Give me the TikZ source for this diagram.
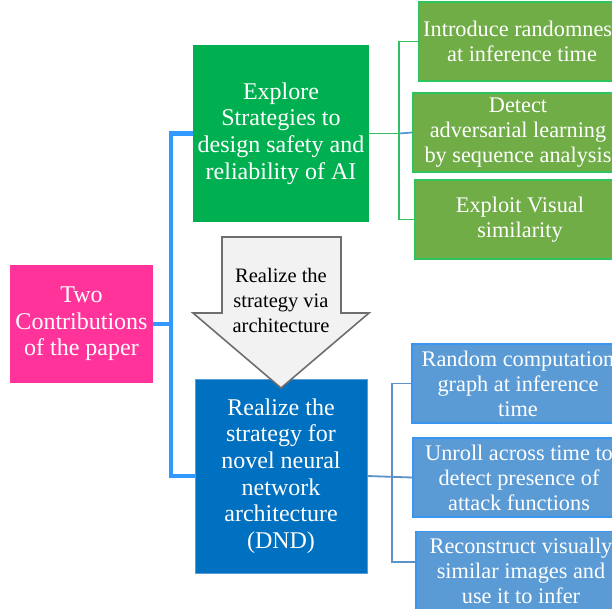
\documentclass[tikz,border=0pt]{standalone}
\usepackage{fontspec}
\setmainfont{Liberation Serif}[Ligatures=TeX]
\newfontfamily\tms{Liberation Serif}
\begin{document}
\begin{tikzpicture}[x=1pt,y=-1pt,
  box/.style={inner sep=0pt,align=center,text=white,anchor=center},
  bigtxt/.style={font=\tms\fontsize{24}{26.6}\selectfont},
  smalltxt/.style={font=\tms\fontsize{22.3}{25}\selectfont},
  arrtxt/.style={font=\tms\fontsize{20.5}{25}\selectfont},
  trunk/.style={draw=trunkblue,line width=4.5pt},
  gline/.style={draw=glinecol,line width=1.8pt},
  bline/.style={draw=blinecol,line width=1.8pt},
  gbox/.style={box,smalltxt,fill=rgreen,draw=rgreenb,line width=1.8pt,minimum height=79pt},
  bbox/.style={box,smalltxt,fill=rblue,draw=rblueb,line width=1.8pt,minimum height=79pt}
]
\definecolor{pinkc}{HTML}{FF3399}
\definecolor{mgreen}{HTML}{00B050}
\definecolor{rgreen}{HTML}{70AD47}
\definecolor{rgreenb}{HTML}{2FC45E}
\definecolor{glinecol}{HTML}{33C060}
\definecolor{dndblue}{HTML}{0070C0}
\definecolor{rblue}{HTML}{5B9BD5}
\definecolor{rblueb}{HTML}{3A95F0}
\definecolor{blinecol}{HTML}{5B93C8}
\definecolor{trunkblue}{HTML}{3399FF}
\definecolor{arrfill}{HTML}{F2F2F2}
\definecolor{arrdraw}{HTML}{6E6E6E}

\clip (0,0) rectangle (612,609);
\fill[white] (0,0) rectangle (612,609);

% main boxes
\node[box,bigtxt,fill=pinkc,minimum width=143pt,minimum height=118pt] (pink) at (81.5,324) {Two\\Contributions\\of the paper};
\node[box,bigtxt,fill=mgreen,minimum width=176pt,minimum height=177pt] (green) at (281,133.5) {Explore\\Strategies to\\design safety and\\reliability of AI};
\node[box,bigtxt,fill=dndblue,draw=rblue,line width=0.8pt,minimum width=172pt,minimum height=194pt] (dnd) at (281,476) {Realize the\\strategy for\\novel neural\\network\\architecture\\(DND)};

% top-level connectors
\coordinate (tk) at (171,0);
\draw[trunk] (green.west) -| (tk |- dnd.west) -- (dnd.west);
\draw[trunk] (pink.east) -- (pink.east -| tk);

% big arrow
\draw[fill=arrfill,draw=arrdraw,line width=1.6pt,line join=miter]
  (222,237) -- (341,237) -- (341,313) -- (369,313) -- (281,388) -- (193,313) -- (222,313) -- cycle;
\node[inner sep=0pt,align=center,arrtxt,text=black] (arrtext) at (281,300) {Realize the\\strategy via\\architecture};

% right green boxes
\node[gbox,minimum width=206pt] (g1) at (522,41.5) {Introduce randomness\\at inference time};
\node[gbox,minimum width=210pt] (g2) at (518,132.5) {Detect\\adversarial learning\\by sequence analysis};
\node[gbox,minimum width=210pt] (g3) at (520,219.5) {Exploit Visual\\similarity};

\coordinate (gk) at (399,0);
\draw[gline] (g1.west) -| (gk |- g3.west) -- (g3.west);
\draw[gline] (green.east) -- (gk |- green.east);
\draw[draw=rblue,line width=1.8pt] (gk |- green.east) -- (g2.west);

% right blue boxes
\node[bbox,minimum width=212pt] (b1) at (518,383.5) {Random computation\\graph at inference\\time};
\node[bbox,minimum width=212pt] (b2) at (519,477.5) {Unroll across time to\\detect presence of\\attack functions};
\node[bbox,minimum width=210pt] (b3) at (521,571) {Reconstruct visually\\similar images and\\use it to infer};
\coordinate (b3in) at ([yshift=-31pt]b3.north west);

\coordinate (bk) at (392,0);
\draw[bline] (b1.west) -| (bk |- b3in) -- (b3in);
\draw[bline] (dnd.east) -- (b2.west);
\end{tikzpicture}
\end{document}
